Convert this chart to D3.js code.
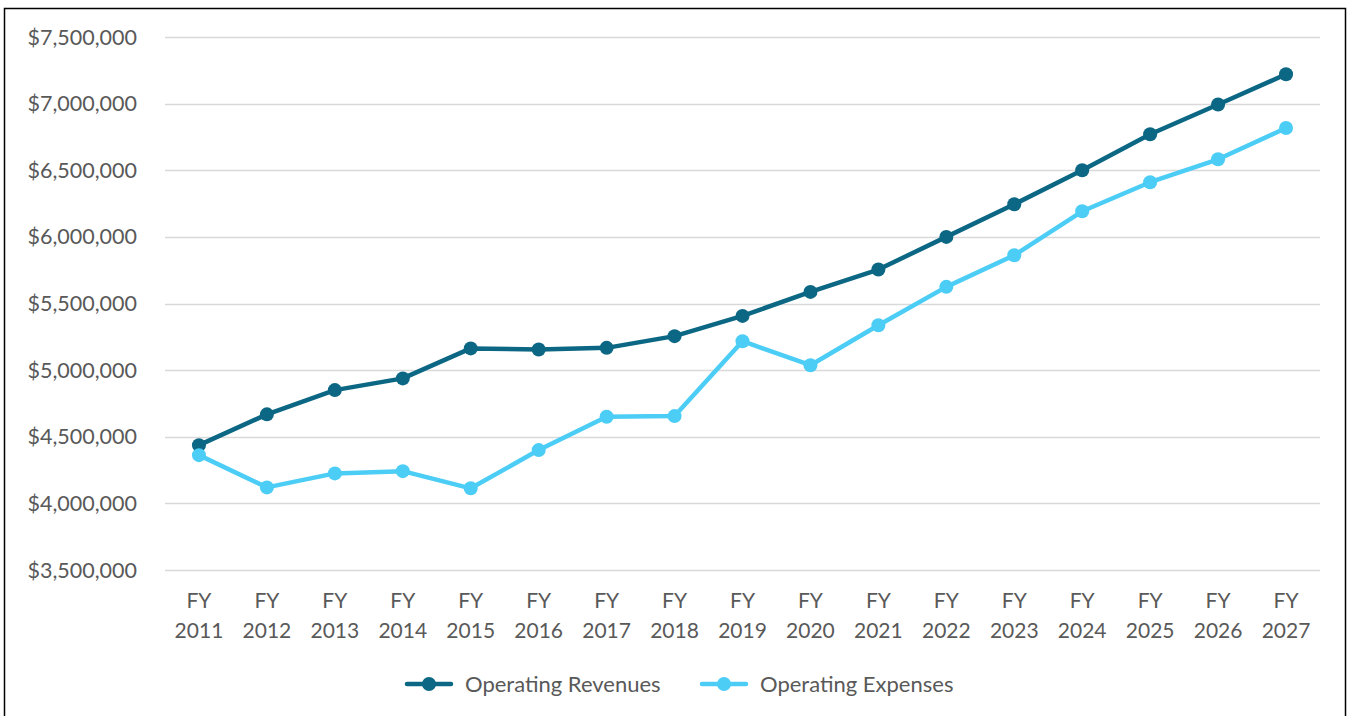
<!DOCTYPE html>
<html>
<head>
<meta charset="utf-8">
<script src="https://cdn.jsdelivr.net/npm/d3@7"></script>
<style>
  body { margin: 0; background: #fff; }
  svg text { font-family: Lato, "Open Sans", sans-serif; fill: #595959; }
</style>
</head>
<body>
<div class="graph"></div>
<script>
// fiscal years on the x axis
const years = ["2011","2012","2013","2014","2015","2016","2017","2018","2019",
               "2020","2021","2022","2023","2024","2025","2026","2027"];

// values
const revenues = [4437000, 4668000, 4850000, 4938000, 5163000, 5155000, 5167000, 5255000, 5407000,
                  5587000, 5755000, 6000000, 6245000, 6500000, 6770000, 6993000, 7220000];
const expenses = [4362000, 4120000, 4225000, 4242000, 4113000, 4400000, 4650000, 4655000, 5217000,
                  5037000, 5337000, 5625000, 5862000, 6192000, 6410000, 6582000, 6817000];

const yTicks = [3500000, 4000000, 4500000, 5000000, 5500000, 6000000, 6500000, 7000000, 7500000];

const seriesNames = ["Operating Revenues", "Operating Expenses"];
const seriesColors = ["#0b6783", "#4ccdf5"];

let width = 1350;
let height = 716;

let svg = d3.select(".graph").append("svg")
  .attr("width", width)
  .attr("height", height);

// outer frame
svg.append("rect")
  .attr("x", 4.5).attr("y", 8.5)
  .attr("width", 1341).attr("height", 730)
  .attr("fill", "none")
  .attr("stroke", "#000")
  .attr("stroke-width", 1.5);

var x = d3.scalePoint().domain(years).range([165, 1320]).padding(0.5);
var y = d3.scaleLinear().domain([3500000, 7500000]).range([570, 37]);

//gridlines
svg.append("g").selectAll("line")
  .data(yTicks)
  .enter().append("line")
  .attr("x1", 165).attr("x2", 1320)
  .attr("y1", d => Math.round(y(d)) + 0.5)
  .attr("y2", d => Math.round(y(d)) + 0.5)
  .attr("stroke", "#d9d9d9")
  .attr("stroke-width", 1.5);

//y labels
var fmt = d3.format("$,.0f");
svg.append("g").selectAll("text")
  .data(yTicks)
  .enter().append("text")
  .attr("x", 137)
  .attr("y", d => y(d))
  .attr("dy", "0.35em")
  .attr("text-anchor", "end")
  .attr("font-size", 21.5)
  .text(d => fmt(d));

//x labels, two lines each
let xl = svg.append("g").selectAll("text")
  .data(years)
  .enter().append("text")
  .attr("text-anchor", "middle")
  .attr("font-size", 21);
xl.append("tspan").attr("x", d => x(d)).attr("y", 608).text("FY");
xl.append("tspan").attr("x", d => x(d)).attr("y", 638).text(d => d);

//lines and markers
let data = [revenues, expenses];
let line = d3.line().x((d, i) => x(years[i])).y(d => y(d));

data.forEach(function(vals, k) {
  svg.append("path")
    .datum(vals)
    .attr("d", line)
    .attr("fill", "none")
    .attr("stroke", seriesColors[k])
    .attr("stroke-width", 4.5)
    .attr("stroke-linejoin", "round");
  svg.append("g").selectAll("circle")
    .data(vals)
    .enter().append("circle")
    .attr("cx", (d, i) => x(years[i]))
    .attr("cy", d => y(d))
    .attr("r", 7)
    .attr("fill", seriesColors[k]);
});

//legend
let legendX = [405, 700];
let legend = svg.append("g").selectAll("g")
  .data(seriesNames)
  .enter().append("g")
  .attr("transform", (d, i) => "translate(" + legendX[i] + ",684)");
legend.append("line")
  .attr("x1", 2).attr("x2", 46)
  .attr("stroke", (d, i) => seriesColors[i])
  .attr("stroke-width", 4.5)
  .attr("stroke-linecap", "round");
legend.append("circle")
  .attr("cx", 24).attr("r", 7)
  .attr("fill", (d, i) => seriesColors[i]);
legend.append("text")
  .attr("x", 60)
  .attr("dy", "0.35em")
  .attr("font-size", 22)
  .text(d => d);
</script>
</body>
</html>
